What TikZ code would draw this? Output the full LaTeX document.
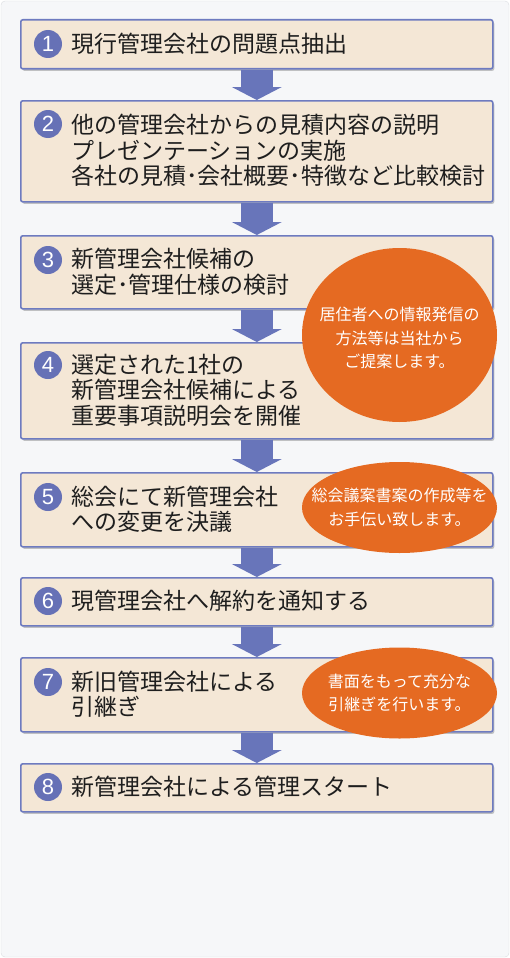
\documentclass[tikz,border=0pt]{standalone}
\usepackage{fontspec}
\setmainfont{Noto Sans CJK JP}
\newfontfamily\numfont{Liberation Sans}
\usetikzlibrary{arrows.meta,shapes.geometric,shadows}
\definecolor{panelbg}{HTML}{F6F7F9}
\definecolor{panelline}{HTML}{DADCE0}
\definecolor{boxfill}{HTML}{F4E7D6}
\definecolor{boxline}{HTML}{6E7BC0}
\definecolor{numblue}{HTML}{6671B6}
\definecolor{flowblue}{HTML}{6875BA}
\definecolor{noteorange}{HTML}{E56A22}
\definecolor{txt}{HTML}{1E1E1E}

\begin{document}
\begin{tikzpicture}[x=1pt,y=1pt,
  stepbox/.style={draw=boxline,fill=boxfill,line width=1.6pt,rounded corners=2pt,
    minimum width=472pt,minimum height=#1,anchor=north west,inner sep=0pt,
    drop shadow={shadow xshift=1.5pt,shadow yshift=-2pt,opacity=.22,fill=black}},
  stepnum/.style={circle,fill=numblue,text=white,minimum size=28pt,inner sep=0pt,
    font=\numfont\fontsize{22}{22}\selectfont},
  steptext/.style={anchor=west,align=left,inner sep=0pt,text=txt,
    font=\fontsize{23}{25.5}\selectfont},
  note/.style={ellipse,fill=noteorange,inner sep=0pt,minimum width=195pt,minimum height=#1},
  notetext/.style={align=center,inner sep=0pt,text=white,font=\fontsize{16}{23.5}\selectfont},
  flow/.style={flowblue,line width=32pt,-{Triangle[width=50pt,length=13pt,line width=0pt]}}]
  \useasboundingbox (0,0) rectangle (510,-958);
  \draw[panelline,fill=panelbg,rounded corners=4pt] (1,-1) rectangle (509,-957);

  % steps
  \node[stepbox=49pt] (b1) at (20,-19) {};  \node[stepbox=101pt] (b2) at (20,-100) {};
  \node[stepbox=73pt] (b3) at (20,-235) {}; \node[stepbox=96pt] (b4) at (20,-342) {};
  \node[stepbox=74pt] (b5) at (20,-472) {}; \node[stepbox=48pt] (b6) at (20,-577) {};
  \node[stepbox=74pt] (b7) at (20,-657) {}; \node[stepbox=48pt] (b8) at (20,-763) {};

  \draw[flow] (b1.south)--(b2.north); \draw[flow] (b2.south)--(b3.north);
  \draw[flow] (b3.south)--(b4.north); \draw[flow] (b4.south)--(b5.north);
  \draw[flow] (b5.south)--(b6.north); \draw[flow] (b6.south)--(b7.north);
  \draw[flow] (b7.south)--(b8.north);

  \node[stepnum] (n1) at (48,-44) {1};  \node[stepnum] (n2) at (48,-124) {2};
  \node[stepnum] (n3) at (48,-260) {3}; \node[stepnum] (n4) at (48,-365) {4};
  \node[stepnum] (n5) at (48,-497) {5}; \node[stepnum] (n6) at (48,-601) {6};
  \node[stepnum] (n7) at (48,-682) {7}; \node[stepnum] (n8) at (48,-787) {8};

  \node[steptext] (t1) at (71,-43.5) {現行管理会社の問題点抽出};
  \node[steptext] (t2) at (71,-150.5) {他の管理会社からの見積内容の説明\\プレゼンテーションの実施\\各社の見積･会社概要･特徴など比較検討};
  \node[steptext] (t3) at (71,-272) {新管理会社候補の\\選定･管理仕様の検討};
  \node[steptext] (t4) at (71,-390) {選定された1社の\\新管理会社候補による\\重要事項説明会を開催};
  \node[steptext] (t5) at (71,-509.5) {総会にて新管理会社\\への変更を決議};
  \node[steptext] (t6) at (71,-601) {現管理会社へ解約を通知する};
  \node[steptext] (t7) at (71,-694) {新旧管理会社による\\引継ぎ};
  \node[steptext] (t8) at (71,-787) {新管理会社による管理スタート};

  % notes
  \node[note=174pt] (e1) at (399.5,-335) {};
  \node[notetext] (e1t) at (399.5,-338) {居住者への情報発信の\\方法等は当社から\\ご提案します。};
  \node[note=91pt] (e2) at (399.5,-507.5) {};
  \node[notetext] (e2t) at (e2) {総会議案書案の作成等を\\お手伝い致します。};
  \node[note=91pt] (e3) at (399.5,-693) {};
  \node[notetext] (e3t) at (e3) {書面をもって充分な\\引継ぎを行います。};
\end{tikzpicture}
\end{document}
